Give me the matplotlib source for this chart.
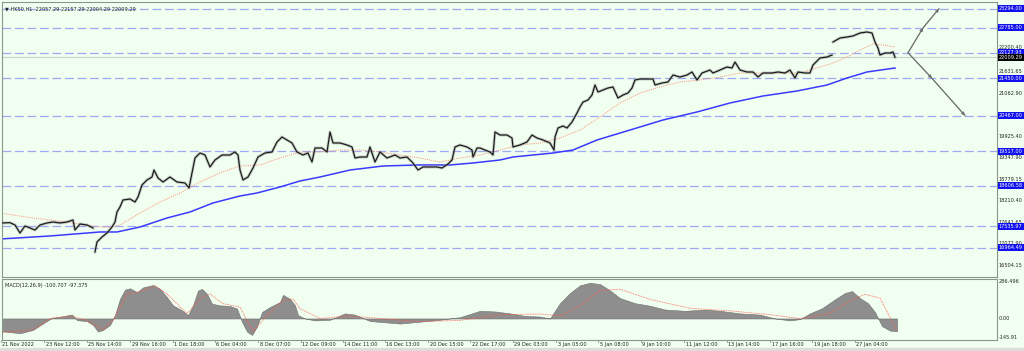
import matplotlib
matplotlib.use("Agg")
import matplotlib.pyplot as plt
from matplotlib.transforms import blended_transform_factory
from matplotlib.patches import Rectangle

# price path (bar position, close)
bars = [2, 10, 15, 20, 25, 30, 35, 40, 47, 53, 60, 67, 73, 75, 80, 87, 93,
        95, 97, 102, 107, 112, 115, 117, 120, 123, 130, 135, 138, 142, 147, 152, 154,
        158, 163, 170, 177, 185, 189, 192, 195, 200, 205, 210, 215, 222, 230, 235,
        238, 240, 243, 248, 253, 258, 265, 272, 277, 282, 287, 292, 297, 303, 308,
        312, 315, 322, 327, 330, 333, 340, 347, 352, 355, 360, 367, 370, 375, 380,
        387, 395, 400, 407, 413, 418, 423, 430, 437, 442, 448, 452, 455, 460, 467,
        472, 473, 477, 480, 490, 493, 495, 500, 507, 512, 513, 520, 527, 532, 537,
        543, 550, 554, 555, 558, 563, 567, 572, 577, 580, 583, 588, 592, 595, 598,
        603, 608, 613, 618, 623, 628, 632, 635, 640, 647, 653, 655, 662, 668, 673,
        680, 687, 692, 697, 702, 710, 713, 720, 727, 732, 735, 740, 747, 753, 758,
        763, 772, 778, 785, 790, 795, 798, 805, 810, 813, 820, 827, 832,
        833, 840, 847, 853, 860, 867, 872, 875, 878, 880, 885, 890, 893, 895]
closes = [17625, 17633, 17572, 17360, 17545, 17492, 17439, 17572, 17625, 17651,
          17625, 17651, 17704, 17439, 17598, 17572, 17492,
          16858, 17122, 17254, 17360, 17519, 17651, 17916, 18048, 18233, 18259, 18180,
          18312, 18630, 18762, 18841, 19026, 18815, 18709, 18841, 18709, 18683, 18550,
          18947, 19344, 19476, 19423, 19106, 19291, 19423, 19423, 19502, 19423, 19026,
          18762, 18841, 19079, 19370, 19476, 19502, 19767, 19899, 19820, 19741, 19502,
          19423, 19476, 19238, 19608, 19608, 19502, 20032, 19741, 19741, 19688, 19635,
          19344, 19370, 19370, 19635, 19238, 19502, 19344, 19423, 19344, 19370, 19212,
          19026, 19106, 19106, 19106, 19079, 19185, 19291, 19635, 19688, 19635, 19555,
          19370, 19608, 19608, 19502, 19423, 20032, 19952, 19952, 19873, 19635, 19688,
          19767, 19952, 19873, 19820, 19741, 19555, 19899, 20137, 20190, 20137, 20296,
          20534, 20693, 20825, 20878, 21010, 21275, 21090, 21142, 21195, 21222, 20931,
          21010, 21063, 21195, 21407, 21433, 21433, 21433, 21275, 21328, 21354, 21539,
          21486, 21539, 21619, 21407, 21592, 21671, 21592, 21671, 21751, 21724, 21883,
          21671, 21619, 21619, 21486, 21592, 21592, 21619, 21592, 21671, 21460, 21619,
          21592, 21592, 21804, 21989, 22015, 22068,
          22412, 22518, 22544, 22571, 22650, 22677, 22650, 22412, 22253, 22068, 22121,
          22121, 22148, 22009.29]
gap_after = [93, 832]

ma_fast_bars = [0, 33, 67, 100, 110, 120, 140, 160, 180, 200, 220, 240, 260, 280,
                300, 320, 340, 360, 380, 400, 420, 440, 460, 480, 500, 520, 540, 560,
                580, 600, 620, 640, 660, 680, 700, 720, 740, 760, 780, 800, 820, 833,
                847, 860, 873, 883, 895]
ma_fast = [17889, 17757, 17651, 17519, 17519, 17572, 17889, 18180, 18418, 18709,
           18947, 19132, 19159, 19344, 19502, 19502, 19555, 19555, 19502, 19423,
           19344, 19238, 19344, 19423, 19555, 19688, 19741, 19873, 20084, 20428,
           20799, 21063, 21222, 21354, 21407, 21486, 21592, 21592, 21592, 21592,
           21751, 21857, 22015, 22200, 22359, 22333, 22280]

ma_slow_bars = [0, 50, 100, 117, 140, 167, 190, 213, 240, 257, 280, 300, 320, 350,
                383, 417, 450, 473, 500, 513, 553, 573, 597, 630, 663, 697, 730, 763,
                797, 827, 847, 867, 895]
ma_slow = [17201, 17281, 17387, 17387, 17519, 17757, 17916, 18154, 18339, 18418,
           18577, 18736, 18841, 19026, 19132, 19159, 19159, 19212, 19291, 19370,
           19476, 19555, 19820, 20084, 20349, 20561, 20799, 20984, 21116, 21275,
           21460, 21619, 21724]

levels = [23294.00, 22785.00, 22127.93, 21450.00, 20467.00, 19517.00, 18606.58,
          17535.97, 16964.49]
price_ticks = [22200.40, 21631.65, 21062.90, 19925.40, 19347.90, 18779.15,
               18210.40, 17641.65, 17072.90, 16504.15]
last_price = 22009.29

proj_x_up = [908, 923, 939]
proj_up = [22127.93, 22785.00, 23294.00]
proj_x_down = [908, 932, 965]
proj_down = [22127.93, 21450.00, 20467.00]

macd_bars = [3, 20, 33, 43, 52, 60, 72, 77, 87, 93, 98, 103, 110, 115, 120, 125, 130,
             137, 143, 153, 160, 167, 173, 182, 188, 193, 198, 202, 207, 212, 220,
             230, 237, 242, 247, 252, 257, 262, 270, 280, 283, 290, 295, 298, 305,
             315, 330, 345, 355, 370, 385, 400, 420, 440, 460, 480, 495, 510, 525,
             540, 550, 560, 570, 580, 590, 600, 610, 620, 635, 650, 665, 685, 705,
             720, 740, 760, 775, 790, 800, 810, 822, 835, 845, 852, 860, 868, 875,
             882, 890, 897]
macd_hist = [-100, -116, -90, -39, 5, 13, 31, -13, -21, -51, -103, -90, -51, 26, 154,
             226, 237, 206, 244, 262, 232, 167, 103, 64, 26, 103, 219, 232, 193, 116,
             103, 98, 77, -26, -103, -129, -64, 51, 90, 129, 185, 154, 103, 26, 0,
             -15, -10, 40, 30, -20, -30, -40, -25, -10, 10, 60, 55, 40, 20, 15, 0,
             120, 200, 260, 280, 270, 220, 160, 120, 100, 70, 60, 70, 60, 40, 30, 0,
             -15, -5, 40, 80, 150, 200, 215, 160, 120, 50, -60, -95, -100]
signal_bars = [3, 33, 50, 70, 87, 103, 113, 127, 140, 155, 167, 187, 200, 210, 223,
               240, 253, 267, 283, 293, 300, 320, 350, 380, 420, 460, 500, 540, 560,
               580, 600, 620, 650, 690, 730, 770, 800, 830, 850, 865, 880, 897]
signal = [-110, -90, 0, 20, -13, -90, -13, 193, 211, 257, 193, 39, 154, 193, 116,
          90, -103, 26, 141, 154, 77, 0, 20, 0, -25, -15, 30, 35, 20, 100, 220, 230,
          150, 80, 60, 30, 0, 40, 140, 190, 160, -97.4]

date_ticks = [1, 44, 87, 130, 173, 215, 258, 301, 343, 385, 428, 470, 513, 556, 598,
              641, 684, 727, 770, 812, 855]
date_labels = ["21 Nov 2022", "23 Nov 12:00", "25 Nov 14:00", "29 Nov 16:00",
               "1 Dec 18:00", "6 Dec 04:00", "8 Dec 07:00", "12 Dec 09:00",
               "14 Dec 11:00", "16 Dec 13:00", "20 Dec 15:00", "22 Dec 17:00",
               "29 Dec 03:00", "3 Jan 05:00", "5 Jan 08:00", "9 Jan 10:00",
               "11 Jan 12:00", "13 Jan 14:00", "17 Jan 16:00", "19 Jan 18:00",
               "27 Jan 04:00"]

bg = "#f0fff0"
frame = "#8a968a"
W, H = 1024, 351
fig = plt.figure(figsize=(W / 100, H / 100), dpi=100, facecolor=bg)
fig.patches.append(Rectangle((0, 0), 1, 3 / H, transform=fig.transFigure,
                             color="#dcdcdc", zorder=0))

ax = fig.add_axes([2 / W, 1 - 277 / H, 995 / W, 275 / H], facecolor=bg)
mx = fig.add_axes([2 / W, 1 - 340 / H, 995 / W, 61 / H], facecolor=bg)
for a in (ax, mx):
    a.set_xlim(2, 997)
    for s in a.spines.values():
        s.set_color(frame)
        s.set_linewidth(0.8)
    a.tick_params(left=False, labelleft=False, right=False, labelright=False,
                  bottom=False, labelbottom=False)
ax.set_ylim(16196, 23470)
mx.set_ylim(-169, 310)

# level lines
for lv in levels:
    ax.axhline(lv, color="#9fa8f5", lw=0.9, dashes=(7, 3), zorder=1)
ax.axhline(last_price, color="#c8d0c8", lw=0.8, zorder=1)

# moving averages
ax.plot(ma_slow_bars, ma_slow, color="#3a3aff", lw=1.1, zorder=2)
ax.plot(ma_fast_bars, ma_fast, color="#ff8c70", lw=0.7, ls=(0, (1, 1.2)), zorder=2)

# price path, split at the gaps
start = 0
for g in gap_after + [bars[-1]]:
    end = bars.index(g) + 1
    xs, ys = bars[start:end], closes[start:end]
    ax.plot(xs, ys, color="#9a9a9a", lw=2.2, alpha=0.45, zorder=3)
    ax.plot(xs, ys, color="#1c1c1c", lw=0.9, zorder=4)
    start = end

# projection arrows
for px, py in ((proj_x_up, proj_up), (proj_x_down, proj_down)):
    ax.plot(px, py, color="#808080", lw=0.9, zorder=3)
    for i in (1, 2):
        ax.annotate("", xy=(px[i], py[i]), xytext=(px[i - 1], py[i - 1]),
                    arrowprops=dict(arrowstyle="-|>", color="#707070", lw=0.6,
                                    mutation_scale=5, shrinkA=0, shrinkB=0))

# right price scale
tr = blended_transform_factory(ax.transAxes, ax.transData)
fs = 3.6
for t in price_ticks:
    # the label just above the 22127.93 box sits on top of it, as in the terminal
    va = "bottom" if t == 22200.40 else "center"
    ax.text(1.002, t, f"{t:.2f}", transform=tr, fontsize=fs, color="#222222",
            va=va, ha="left", clip_on=False)
for lv in levels:
    ax.text(1.002, lv, f"{lv:.2f}", transform=tr, fontsize=fs, color="white",
            va="center", ha="left", clip_on=False,
            bbox=dict(boxstyle="square,pad=0.2", fc="#1010f0", ec="none"))
ax.text(1.002, last_price, f"{last_price:.2f}", transform=tr, fontsize=fs,
        color="white", va="center", ha="left", clip_on=False,
        bbox=dict(boxstyle="square,pad=0.2", fc="black", ec="none"))

ax.text(0.003, 0.985, "\u25bc HK50,H1  22057.29 22157.29 22004.29 22009.29",
        transform=ax.transAxes, fontsize=fs, color="#222222", va="top", ha="left")

# MACD panel
mx.fill_between(macd_bars, macd_hist, 0, color="#8e8e8e", lw=0.4, ec="#6e6e6e", zorder=2)
mx.plot(signal_bars, signal, color="#ff5a4a", lw=0.6, ls=(0, (1, 1)), zorder=3)
mx.text(0.003, 0.93, "MACD(12,26,9) -100.707 -97.375", transform=mx.transAxes,
        fontsize=fs, color="#222222", va="top", ha="left")
trm = blended_transform_factory(mx.transAxes, mx.transData)
for v, s in ((286.496, "286.496"), (0, "0.00"), (-145.91, "-145.91")):
    mx.text(1.002, v, s, transform=trm, fontsize=fs, color="#222222",
            va="center", ha="left", clip_on=False)

# time scale
trx = blended_transform_factory(mx.transData, mx.transAxes)
for d, lab in zip(date_ticks, date_labels):
    mx.plot([d, d], [0, -0.04], transform=trx, color=frame, lw=0.6, clip_on=False)
    mx.text(d + 1.5, -0.075, lab, transform=trx, fontsize=fs, color="#222222",
            va="center", ha="left", clip_on=False)

fig.savefig("out.png", dpi=100, facecolor=bg)
